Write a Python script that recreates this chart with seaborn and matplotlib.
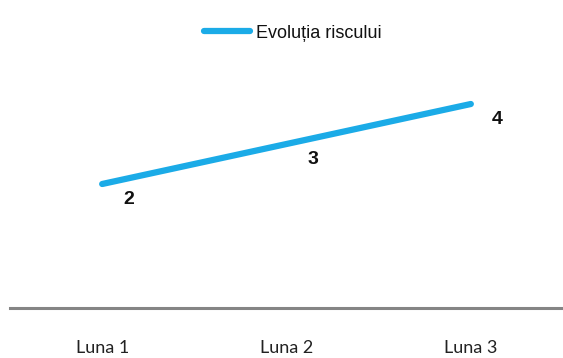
import matplotlib
matplotlib.use("Agg")
import matplotlib.pyplot as plt
import seaborn as sns
import pandas as pd

# Data
luni = ["Luna 1", "Luna 2", "Luna 3"]
risc = [2, 3, 4]
serie = "Evoluția riscului"

df = pd.DataFrame({"luna": luni, "risc": risc, "poz": range(len(luni))})

sns.set_theme(style="white")
plt.rcParams["font.family"] = ["Liberation Sans", "DejaVu Sans"]

W, H, DPI = 563, 358, 100
fig = plt.figure(figsize=(W / DPI, H / DPI), dpi=DPI)
ax = fig.add_axes([10 / W, (H - 308) / H, 553 / W, 248 / H])

sns.lineplot(data=df, x="poz", y="risc", ax=ax, color="#1BABE7",
             linewidth=4.5, label=serie, solid_capstyle="round")

for x, y in zip(df["poz"], df["risc"]):
    ax.annotate(str(y), (x, y), xytext=(19, -11), textcoords="offset points",
                ha="center", va="center", fontsize=14, fontweight="bold",
                color="#111111")

ax.set_xlim(-0.5, 2.5)
ax.set_ylim(-1.1, 5.1)
ax.set_xticks(range(len(luni)))
ax.set_xticklabels(luni, fontsize=13, family=["Lato", "DejaVu Sans"], color="#222222")
ax.tick_params(axis="x", length=0, pad=23)
ax.set_yticks([])
ax.set_xlabel("")
ax.set_ylabel("")
for s in ["top", "left", "right"]:
    ax.spines[s].set_visible(False)
ax.spines["bottom"].set_color("#858585")
ax.spines["bottom"].set_linewidth(2.2)

leg = ax.legend(loc="center", bbox_to_anchor=(293 / W, 1 - 33 / H),
                bbox_transform=fig.transFigure, frameon=False,
                handlelength=2.5, handletextpad=0.35, fontsize=13)
for t in leg.get_texts():
    t.set_color("#111111")

fig.savefig("out.png", dpi=DPI, facecolor="white")
